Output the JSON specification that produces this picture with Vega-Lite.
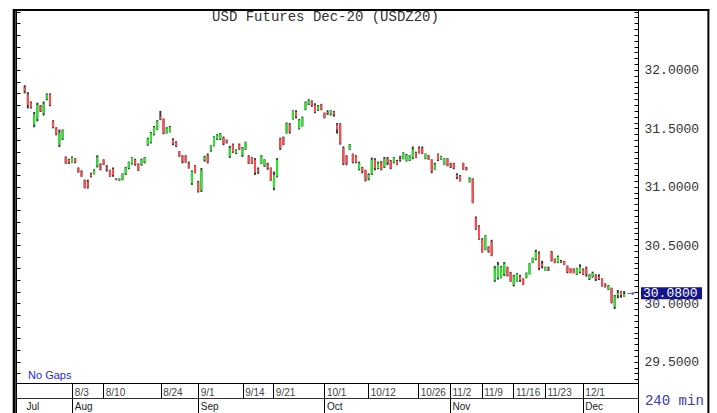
{
  "$schema": "https://vega.github.io/schema/vega-lite/v6.json",
  "autosize": {"type": "none"},
  "padding": {"left": 16, "top": 10, "right": 79, "bottom": 30},
  "width": 622,
  "height": 373,
  "background": "white",
  "config": {"view": {"stroke": "#000", "strokeWidth": 1}},
  "data": {"values": [
    {"i":0,"o":31.85,"h":31.87,"l":31.80,"c":31.82},
    {"i":1,"o":31.79,"h":31.81,"l":31.67,"c":31.70},
    {"i":2,"o":31.72,"h":31.73,"l":31.67,"c":31.68},
    {"i":3,"o":31.53,"h":31.64,"l":31.51,"c":31.62},
    {"i":4,"o":31.58,"h":31.72,"l":31.56,"c":31.70},
    {"i":5,"o":31.69,"h":31.70,"l":31.64,"c":31.65},
    {"i":6,"o":31.63,"h":31.73,"l":31.61,"c":31.71},
    {"i":7,"o":31.75,"h":31.80,"l":31.74,"c":31.79},
    {"i":8,"o":31.79,"h":31.80,"l":31.69,"c":31.70},
    {"i":9,"o":31.56,"h":31.57,"l":31.50,"c":31.51},
    {"i":10,"o":31.50,"h":31.51,"l":31.44,"c":31.45},
    {"i":11,"o":31.36,"h":31.49,"l":31.34,"c":31.46},
    {"i":12,"o":31.41,"h":31.49,"l":31.40,"c":31.48},
    {"i":13,"o":31.25,"h":31.26,"l":31.195,"c":31.20},
    {"i":14,"o":31.23,"h":31.24,"l":31.195,"c":31.21},
    {"i":15,"o":31.21,"h":31.26,"l":31.205,"c":31.25},
    {"i":16,"o":31.24,"h":31.245,"l":31.20,"c":31.21},
    {"i":17,"o":31.16,"h":31.165,"l":31.12,"c":31.13},
    {"i":18,"o":31.13,"h":31.14,"l":31.085,"c":31.09},
    {"i":19,"o":31.05,"h":31.06,"l":30.985,"c":30.99},
    {"i":20,"o":31.04,"h":31.06,"l":30.985,"c":31.00},
    {"i":21,"o":31.11,"h":31.12,"l":31.08,"c":31.09},
    {"i":22,"o":31.11,"h":31.15,"l":31.105,"c":31.14},
    {"i":23,"o":31.18,"h":31.27,"l":31.165,"c":31.25},
    {"i":24,"o":31.19,"h":31.20,"l":31.14,"c":31.15},
    {"i":25,"o":31.23,"h":31.235,"l":31.185,"c":31.19},
    {"i":26,"o":31.17,"h":31.185,"l":31.13,"c":31.15},
    {"i":27,"o":31.14,"h":31.145,"l":31.085,"c":31.09},
    {"i":28,"o":31.15,"h":31.165,"l":31.085,"c":31.10},
    {"i":29,"o":31.07,"h":31.072,"l":31.055,"c":31.06},
    {"i":30,"o":31.055,"h":31.072,"l":31.05,"c":31.07},
    {"i":31,"o":31.06,"h":31.115,"l":31.055,"c":31.11},
    {"i":32,"o":31.11,"h":31.17,"l":31.10,"c":31.16},
    {"i":33,"o":31.16,"h":31.215,"l":31.15,"c":31.21},
    {"i":34,"o":31.20,"h":31.255,"l":31.19,"c":31.25},
    {"i":35,"o":31.23,"h":31.24,"l":31.18,"c":31.19},
    {"i":36,"o":31.19,"h":31.20,"l":31.135,"c":31.14},
    {"i":37,"o":31.19,"h":31.24,"l":31.18,"c":31.23},
    {"i":38,"o":31.21,"h":31.255,"l":31.20,"c":31.25},
    {"i":39,"o":31.36,"h":31.42,"l":31.35,"c":31.41},
    {"i":40,"o":31.38,"h":31.47,"l":31.37,"c":31.46},
    {"i":41,"o":31.45,"h":31.52,"l":31.44,"c":31.51},
    {"i":42,"o":31.49,"h":31.57,"l":31.485,"c":31.56},
    {"i":43,"o":31.60,"h":31.65,"l":31.57,"c":31.58},
    {"i":44,"o":31.58,"h":31.585,"l":31.45,"c":31.46},
    {"i":45,"o":31.46,"h":31.51,"l":31.455,"c":31.50},
    {"i":46,"o":31.47,"h":31.52,"l":31.465,"c":31.51},
    {"i":47,"o":31.40,"h":31.415,"l":31.355,"c":31.37},
    {"i":48,"o":31.38,"h":31.39,"l":31.34,"c":31.35},
    {"i":49,"o":31.30,"h":31.305,"l":31.255,"c":31.26},
    {"i":50,"o":31.26,"h":31.27,"l":31.20,"c":31.22},
    {"i":51,"o":31.26,"h":31.27,"l":31.205,"c":31.21},
    {"i":52,"o":31.20,"h":31.215,"l":31.155,"c":31.16},
    {"i":53,"o":31.03,"h":31.14,"l":31.015,"c":31.13},
    {"i":54,"o":31.18,"h":31.185,"l":31.115,"c":31.12},
    {"i":55,"o":31.04,"h":31.05,"l":30.95,"c":30.96},
    {"i":56,"o":30.97,"h":31.16,"l":30.955,"c":31.14},
    {"i":57,"o":31.23,"h":31.265,"l":31.215,"c":31.25},
    {"i":58,"o":31.27,"h":31.285,"l":31.20,"c":31.21},
    {"i":59,"o":31.31,"h":31.355,"l":31.30,"c":31.35},
    {"i":60,"o":31.35,"h":31.435,"l":31.345,"c":31.43},
    {"i":61,"o":31.41,"h":31.45,"l":31.40,"c":31.44},
    {"i":62,"o":31.41,"h":31.46,"l":31.40,"c":31.45},
    {"i":63,"o":31.42,"h":31.43,"l":31.355,"c":31.37},
    {"i":64,"o":31.40,"h":31.405,"l":31.37,"c":31.38},
    {"i":65,"o":31.26,"h":31.35,"l":31.245,"c":31.33},
    {"i":66,"o":31.36,"h":31.37,"l":31.29,"c":31.30},
    {"i":67,"o":31.29,"h":31.32,"l":31.28,"c":31.31},
    {"i":68,"o":31.36,"h":31.37,"l":31.315,"c":31.32},
    {"i":69,"o":31.27,"h":31.34,"l":31.255,"c":31.33},
    {"i":70,"o":31.32,"h":31.385,"l":31.315,"c":31.38},
    {"i":71,"o":31.26,"h":31.27,"l":31.195,"c":31.20},
    {"i":72,"o":31.25,"h":31.255,"l":31.195,"c":31.20},
    {"i":73,"o":31.23,"h":31.245,"l":31.10,"c":31.12},
    {"i":74,"o":31.15,"h":31.165,"l":31.11,"c":31.13},
    {"i":75,"o":31.20,"h":31.27,"l":31.195,"c":31.26},
    {"i":76,"o":31.18,"h":31.235,"l":31.17,"c":31.23},
    {"i":77,"o":31.19,"h":31.205,"l":31.145,"c":31.16},
    {"i":78,"o":31.16,"h":31.165,"l":31.05,"c":31.06},
    {"i":79,"o":30.99,"h":31.13,"l":30.97,"c":31.10},
    {"i":80,"o":31.09,"h":31.245,"l":31.08,"c":31.23},
    {"i":81,"o":31.41,"h":31.42,"l":31.315,"c":31.33},
    {"i":82,"o":31.42,"h":31.43,"l":31.355,"c":31.36},
    {"i":83,"o":31.46,"h":31.55,"l":31.455,"c":31.54},
    {"i":84,"o":31.53,"h":31.545,"l":31.455,"c":31.47},
    {"i":85,"o":31.58,"h":31.655,"l":31.575,"c":31.65},
    {"i":86,"o":31.64,"h":31.655,"l":31.585,"c":31.60},
    {"i":87,"o":31.50,"h":31.58,"l":31.49,"c":31.57},
    {"i":88,"o":31.52,"h":31.60,"l":31.515,"c":31.59},
    {"i":89,"o":31.66,"h":31.73,"l":31.655,"c":31.72},
    {"i":90,"o":31.71,"h":31.75,"l":31.70,"c":31.74},
    {"i":91,"o":31.73,"h":31.74,"l":31.685,"c":31.70},
    {"i":92,"o":31.70,"h":31.715,"l":31.63,"c":31.64},
    {"i":93,"o":31.66,"h":31.70,"l":31.65,"c":31.69},
    {"i":94,"o":31.70,"h":31.71,"l":31.655,"c":31.66},
    {"i":95,"o":31.63,"h":31.635,"l":31.585,"c":31.59},
    {"i":96,"o":31.64,"h":31.655,"l":31.615,"c":31.63},
    {"i":97,"o":31.62,"h":31.655,"l":31.61,"c":31.65},
    {"i":98,"o":31.64,"h":31.65,"l":31.60,"c":31.62},
    {"i":99,"o":31.53,"h":31.545,"l":31.455,"c":31.49},
    {"i":100,"o":31.54,"h":31.545,"l":31.36,"c":31.37},
    {"i":101,"o":31.33,"h":31.345,"l":31.185,"c":31.20},
    {"i":102,"o":31.26,"h":31.27,"l":31.185,"c":31.20},
    {"i":103,"o":31.32,"h":31.365,"l":31.315,"c":31.36},
    {"i":104,"o":31.28,"h":31.285,"l":31.20,"c":31.21},
    {"i":105,"o":31.26,"h":31.27,"l":31.20,"c":31.21},
    {"i":106,"o":31.15,"h":31.215,"l":31.14,"c":31.20},
    {"i":107,"o":31.16,"h":31.17,"l":31.115,"c":31.13},
    {"i":108,"o":31.14,"h":31.145,"l":31.045,"c":31.06},
    {"i":109,"o":31.07,"h":31.115,"l":31.055,"c":31.10},
    {"i":110,"o":31.11,"h":31.25,"l":31.10,"c":31.23},
    {"i":111,"o":31.23,"h":31.245,"l":31.14,"c":31.16},
    {"i":112,"o":31.16,"h":31.215,"l":31.15,"c":31.20},
    {"i":113,"o":31.21,"h":31.22,"l":31.14,"c":31.15},
    {"i":114,"o":31.17,"h":31.255,"l":31.16,"c":31.24},
    {"i":115,"o":31.24,"h":31.255,"l":31.185,"c":31.21},
    {"i":116,"o":31.22,"h":31.23,"l":31.15,"c":31.16},
    {"i":117,"o":31.21,"h":31.255,"l":31.20,"c":31.25},
    {"i":118,"o":31.22,"h":31.23,"l":31.185,"c":31.19},
    {"i":119,"o":31.24,"h":31.265,"l":31.215,"c":31.23},
    {"i":120,"o":31.24,"h":31.295,"l":31.235,"c":31.29},
    {"i":121,"o":31.22,"h":31.28,"l":31.215,"c":31.27},
    {"i":122,"o":31.23,"h":31.27,"l":31.22,"c":31.26},
    {"i":123,"o":31.25,"h":31.345,"l":31.235,"c":31.32},
    {"i":124,"o":31.29,"h":31.30,"l":31.245,"c":31.25},
    {"i":125,"o":31.33,"h":31.345,"l":31.285,"c":31.29},
    {"i":126,"o":31.33,"h":31.345,"l":31.28,"c":31.285},
    {"i":127,"o":31.24,"h":31.285,"l":31.235,"c":31.28},
    {"i":128,"o":31.27,"h":31.272,"l":31.23,"c":31.235},
    {"i":129,"o":31.23,"h":31.235,"l":31.115,"c":31.13},
    {"i":130,"o":31.15,"h":31.205,"l":31.145,"c":31.19},
    {"i":131,"o":31.28,"h":31.285,"l":31.22,"c":31.23},
    {"i":132,"o":31.235,"h":31.265,"l":31.23,"c":31.26},
    {"i":133,"o":31.19,"h":31.245,"l":31.185,"c":31.24},
    {"i":134,"o":31.24,"h":31.245,"l":31.175,"c":31.18},
    {"i":135,"o":31.19,"h":31.205,"l":31.16,"c":31.17},
    {"i":136,"o":31.20,"h":31.205,"l":31.15,"c":31.16},
    {"i":137,"o":31.10,"h":31.115,"l":31.065,"c":31.08},
    {"i":138,"o":31.09,"h":31.10,"l":31.045,"c":31.05},
    {"i":139,"o":31.20,"h":31.205,"l":31.145,"c":31.15},
    {"i":140,"o":31.16,"h":31.17,"l":31.14,"c":31.15},
    {"i":141,"o":31.04,"h":31.08,"l":31.035,"c":31.07},
    {"i":142,"o":31.07,"h":31.072,"l":30.858,"c":30.86},
    {"i":143,"o":30.73,"h":30.745,"l":30.63,"c":30.64},
    {"i":144,"o":30.66,"h":30.67,"l":30.545,"c":30.55},
    {"i":145,"o":30.55,"h":30.56,"l":30.435,"c":30.44},
    {"i":146,"o":30.46,"h":30.585,"l":30.455,"c":30.58},
    {"i":147,"o":30.48,"h":30.49,"l":30.435,"c":30.45},
    {"i":148,"o":30.53,"h":30.545,"l":30.405,"c":30.41},
    {"i":149,"o":30.20,"h":30.32,"l":30.185,"c":30.30},
    {"i":150,"o":30.22,"h":30.355,"l":30.205,"c":30.33},
    {"i":151,"o":30.22,"h":30.32,"l":30.215,"c":30.31},
    {"i":152,"o":30.25,"h":30.355,"l":30.235,"c":30.34},
    {"i":153,"o":30.31,"h":30.315,"l":30.23,"c":30.24},
    {"i":154,"o":30.26,"h":30.27,"l":30.185,"c":30.19},
    {"i":155,"o":30.16,"h":30.245,"l":30.145,"c":30.23},
    {"i":156,"o":30.19,"h":30.26,"l":30.185,"c":30.25},
    {"i":157,"o":30.23,"h":30.245,"l":30.185,"c":30.20},
    {"i":158,"o":30.21,"h":30.215,"l":30.158,"c":30.16},
    {"i":159,"o":30.22,"h":30.265,"l":30.215,"c":30.26},
    {"i":160,"o":30.25,"h":30.345,"l":30.248,"c":30.34},
    {"i":161,"o":30.35,"h":30.392,"l":30.345,"c":30.39},
    {"i":162,"o":30.38,"h":30.46,"l":30.37,"c":30.44},
    {"i":163,"o":30.43,"h":30.445,"l":30.285,"c":30.30},
    {"i":164,"o":30.34,"h":30.365,"l":30.30,"c":30.32},
    {"i":165,"o":30.28,"h":30.315,"l":30.278,"c":30.31},
    {"i":166,"o":30.30,"h":30.315,"l":30.278,"c":30.29},
    {"i":167,"o":30.44,"h":30.45,"l":30.36,"c":30.37},
    {"i":168,"o":30.38,"h":30.385,"l":30.345,"c":30.35},
    {"i":169,"o":30.35,"h":30.41,"l":30.345,"c":30.40},
    {"i":170,"o":30.36,"h":30.372,"l":30.345,"c":30.35},
    {"i":171,"o":30.36,"h":30.365,"l":30.328,"c":30.33},
    {"i":172,"o":30.32,"h":30.325,"l":30.258,"c":30.27},
    {"i":173,"o":30.30,"h":30.302,"l":30.258,"c":30.26},
    {"i":174,"o":30.29,"h":30.30,"l":30.258,"c":30.26},
    {"i":175,"o":30.25,"h":30.305,"l":30.243,"c":30.30},
    {"i":176,"o":30.27,"h":30.335,"l":30.258,"c":30.31},
    {"i":177,"o":30.29,"h":30.30,"l":30.243,"c":30.25},
    {"i":178,"o":30.30,"h":30.315,"l":30.23,"c":30.25},
    {"i":179,"o":30.21,"h":30.25,"l":30.20,"c":30.24},
    {"i":180,"o":30.23,"h":30.272,"l":30.22,"c":30.26},
    {"i":181,"o":30.24,"h":30.25,"l":30.192,"c":30.21},
    {"i":182,"o":30.23,"h":30.25,"l":30.20,"c":30.21},
    {"i":183,"o":30.21,"h":30.215,"l":30.143,"c":30.15},
    {"i":184,"o":30.16,"h":30.172,"l":30.135,"c":30.14},
    {"i":185,"o":30.12,"h":30.158,"l":30.115,"c":30.15},
    {"i":186,"o":30.13,"h":30.135,"l":30.00,"c":30.01},
    {"i":187,"o":29.97,"h":30.072,"l":29.952,"c":30.06},
    {"i":188,"o":30.07,"h":30.115,"l":30.044,"c":30.09},
    {"i":189,"o":30.10,"h":30.106,"l":30.049,"c":30.07},
    {"i":190,"o":30.06,"h":30.106,"l":30.057,"c":30.08}
  ]},
  "layer": [
    {
      "mark": {"type": "rule", "strokeWidth": 2, "color": "#3a3a3a"},
      "encoding": {
        "x": {"field": "i", "type": "quantitative",
          "scale": {"domain": [-2.76, 194.39], "nice": false, "zero": false},
          "axis": {"orient": "bottom", "offset": 0, "title": null, "grid": false, "domain": false,
            "values": [-2.76, 15.1, 24.9, 43.1, 55, 69.1, 78.8, 95, 108.9, 124.75, 134.8, 144.85, 154.9, 164.9, 176.9, 194.39],
            "labelExpr": "['','8/3','8/10','8/24','9/1','9/14','9/21','10/1','10/12','10/26','11/2','11/9','11/16','11/23','12/1',''][indexof([-2.76,15.1,24.9,43.1,55,69.1,78.8,95,108.9,124.75,134.8,144.85,154.9,164.9,176.9,194.39], datum.value)]",
            "ticks": true, "tickSize": 15, "tickColor": "#000", "tickWidth": 1,
            "labelAlign": "left", "labelBaseline": "middle", "labelPadding": -5.5, "labelOffset": 2,
            "labelFont": "Liberation Sans", "labelFontSize": 10, "labelColor": "#444",
            "labelOverlap": false, "labelFlush": false, "labelBound": false}},
        "y": {"field": "l", "type": "quantitative",
          "scale": {"domain": [29.318, 32.514], "nice": false, "zero": false},
          "axis": {"orient": "right", "title": null, "grid": false,
            "values": [29.35,29.4,29.45,29.5,29.55,29.6,29.65,29.7,29.75,29.8,29.85,29.9,29.95,30,30.05,30.1,30.15,30.2,30.25,30.3,30.35,30.4,30.45,30.5,30.55,30.6,30.65,30.7,30.75,30.8,30.85,30.9,30.95,31,31.05,31.1,31.15,31.2,31.25,31.3,31.35,31.4,31.45,31.5,31.55,31.6,31.65,31.7,31.75,31.8,31.85,31.9,31.95,32,32.05,32.1,32.15,32.2,32.25,32.3,32.35,32.4,32.45,32.5],
            "labelExpr": "(abs(datum.value*2-round(datum.value*2))<0.001 && datum.value<32.2 && datum.value>29.4) ? format(datum.value,'.4f') : ''",
            "tickSize": -4, "tickColor": "#000", "tickWidth": 1,
            "domain": true, "domainColor": "#000", "domainWidth": 1,
            "labelPadding": 10, "labelFont": "Liberation Mono", "labelFontSize": 13, "labelColor": "#333",
            "labelBaseline": "middle", "labelOverlap": false, "labelFlush": false, "labelBound": false}},
        "y2": {"field": "h"}
      }
    },
    {
      "mark": {"type": "rule", "strokeWidth": 2},
      "encoding": {
        "x": {"field": "i", "type": "quantitative",
          "axis": {"orient": "bottom", "offset": 15, "title": null, "grid": false,
            "domain": true, "domainColor": "#333", "domainWidth": 1,
            "values": [-2.76, 15.1, 55, 95, 134.8, 176.9, 194.39],
            "labelExpr": "['Jul','Aug','Sep','Oct','Nov','Dec',''][indexof([-2.76,15.1,55,95,134.8,176.9,194.39], datum.value)]",
            "ticks": true, "tickSize": 15, "tickColor": "#000", "tickWidth": 1,
            "labelAlign": "left", "labelBaseline": "middle", "labelPadding": -7,
            "labelOffset": {"condition": {"test": "datum.value < 0", "value": 10}, "value": 2},
            "labelFont": "Liberation Sans", "labelFontSize": 10, "labelColor": "#222",
            "labelOverlap": false, "labelFlush": false, "labelBound": false}},
        "y": {"field": "o", "type": "quantitative",
          "axis": {"orient": "left", "title": null, "grid": false, "labels": false, "domain": false,
            "values": [29.4,29.5,29.6,29.7,29.8,29.9,30,30.1,30.2,30.3,30.4,30.5,30.6,30.7,30.8,30.9,31,31.1,31.2,31.3,31.4,31.5,31.6,31.7,31.8,31.9,32,32.1,32.2,32.3,32.4,32.5],
            "tickSize": -4, "tickColor": "#000", "tickWidth": 1}},
        "y2": {"field": "c"},
        "color": {"condition": {"test": "datum.c >= datum.o", "value": "#2ee82e"}, "value": "#ff4d4d"}
      }
    },
    {
      "data": {"values": [{}]},
      "mark": {"type": "rule", "strokeWidth": 2, "color": "#000"},
      "encoding": {
        "x": {"datum": -3.71, "type": "quantitative", "axis": null},
        "x2": {"datum": 217.0},
        "y": {"datum": 32.514, "type": "quantitative", "axis": null}
      }
    },
    {
      "data": {"values": [{}]},
      "mark": {"type": "rule", "strokeWidth": 3, "color": "#000"},
      "encoding": {
        "x": {"datum": -3.33, "type": "quantitative", "axis": null},
        "y": {"datum": 32.5226, "type": "quantitative", "axis": null},
        "y2": {"datum": 29.061}
      }
    },
    {
      "data": {"values": [{}]},
      "mark": {"type": "rule", "strokeWidth": 2, "color": "#000"},
      "encoding": {
        "x": {"datum": 216.7, "type": "quantitative", "axis": null},
        "y": {"datum": 32.5226, "type": "quantitative", "axis": null},
        "y2": {"datum": 29.061}
      }
    },
    {
      "data": {"values": [{"t": "USD Futures Dec-20 (USDZ20)"}]},
      "mark": {"type": "text", "font": "Liberation Mono", "fontSize": 14, "color": "#333", "align": "center", "baseline": "middle"},
      "encoding": {
        "x": {"datum": 95.34, "type": "quantitative", "axis": null},
        "y": {"datum": 32.451, "type": "quantitative", "axis": null},
        "text": {"field": "t"}
      }
    },
    {
      "data": {"values": [{"t": "No  Gaps"}]},
      "mark": {"type": "text", "font": "Liberation Sans", "fontSize": 11, "color": "#2a2ad0", "align": "left", "baseline": "middle"},
      "encoding": {
        "x": {"datum": 1.05, "type": "quantitative", "axis": null},
        "y": {"datum": 29.381, "type": "quantitative", "axis": null},
        "text": {"field": "t"}
      }
    },
    {
      "data": {"values": [{}]},
      "mark": {"type": "rect", "color": "#14148f"},
      "encoding": {
        "x": {"datum": 195.34, "type": "quantitative", "axis": null},
        "x2": {"datum": 214.68},
        "y": {"datum": 30.035, "type": "quantitative", "axis": null},
        "y2": {"datum": 30.138}
      }
    },
    {
      "data": {"values": [{"t": "30.0800"}]},
      "mark": {"type": "text", "font": "Liberation Mono", "fontSize": 13, "color": "#ffffff", "align": "left", "baseline": "middle"},
      "encoding": {
        "x": {"datum": 195.98, "type": "quantitative", "axis": null},
        "y": {"datum": 30.0865, "type": "quantitative", "axis": null},
        "text": {"field": "t"}
      }
    },
    {
      "data": {"values": [{"t": "→"}]},
      "mark": {"type": "text", "font": "DejaVu Sans", "fontSize": 9, "color": "#3333cc", "align": "center", "baseline": "middle"},
      "encoding": {
        "x": {"datum": 192.1, "type": "quantitative", "axis": null},
        "y": {"datum": 30.0865, "type": "quantitative", "axis": null},
        "text": {"field": "t"}
      }
    },
    {
      "data": {"values": [{"t": "240 min"}]},
      "mark": {"type": "text", "font": "Liberation Mono", "fontSize": 14, "color": "#3a3aa8", "align": "left", "baseline": "middle"},
      "encoding": {
        "x": {"datum": 196.6, "type": "quantitative", "axis": null},
        "y": {"datum": 29.164, "type": "quantitative", "axis": null},
        "text": {"field": "t"}
      }
    }
  ],
  "resolve": {"axis": {"x": "independent", "y": "independent"}}
}
